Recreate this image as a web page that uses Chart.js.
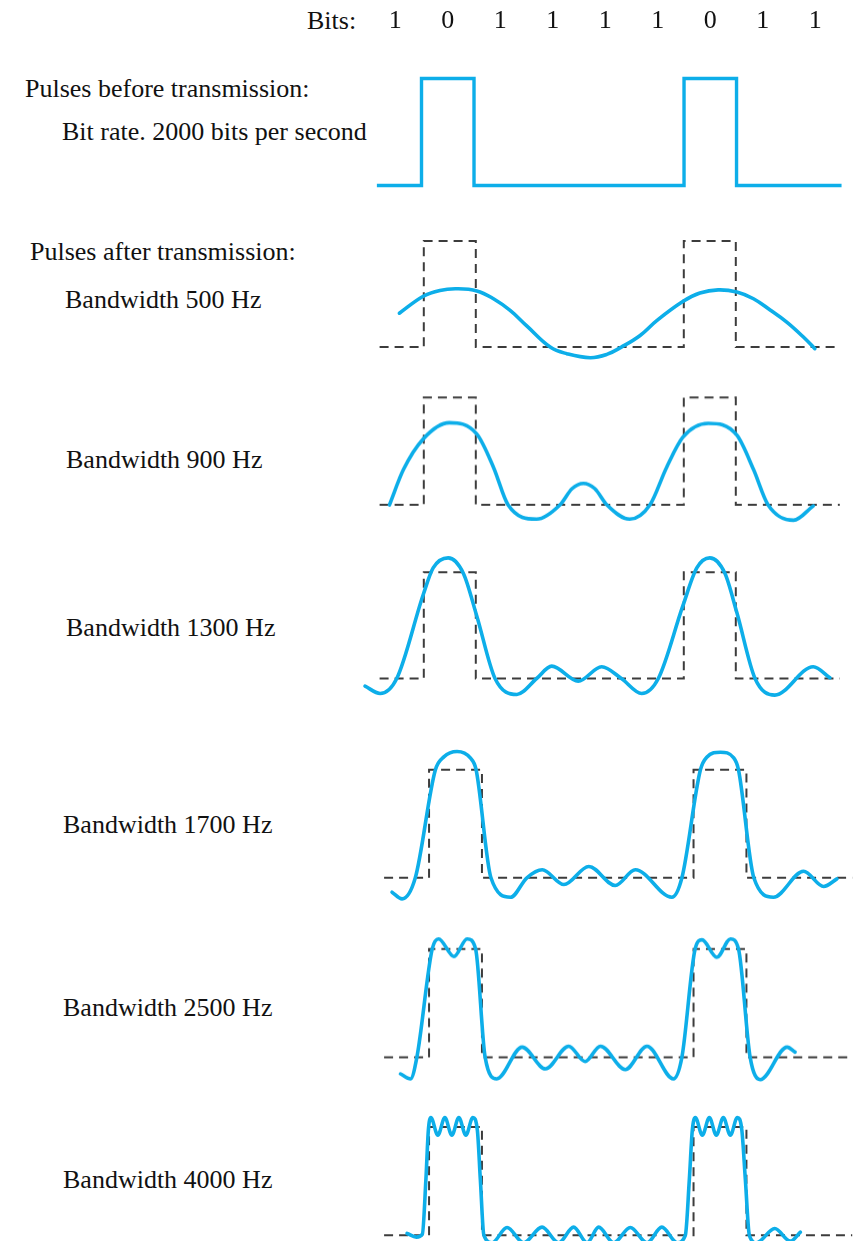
<!DOCTYPE html>
<html>
<head>
<meta charset="utf-8">
<script src="https://cdn.jsdelivr.net/npm/chart.js@4.4.1/dist/chart.umd.min.js"></script>
<style>
  html, body { margin: 0; padding: 0; background: #fff; }
  body { width: 858px; height: 1241px; overflow: hidden; position: relative; }
  .lbl { position: absolute; font-family: "Liberation Serif", "Times New Roman", serif;
         font-size: 26px; line-height: 26px; color: #111; white-space: nowrap; }
  .panel { position: absolute; }
</style>
</head>
<body>
<div class="lbl" style="left:307px;top:8px">Bits:</div>
<div class="lbl" style="left:25px;top:76px">Pulses before transmission:</div>
<div class="lbl" style="left:62px;top:119px">Bit rate. 2000 bits per second</div>
<div class="lbl" style="left:30px;top:239px">Pulses after transmission:</div>
<div class="lbl" style="left:65px;top:287px">Bandwidth 500 Hz</div>
<div class="lbl" style="left:66px;top:447px">Bandwidth 900 Hz</div>
<div class="lbl" style="left:66px;top:615px">Bandwidth 1300 Hz</div>
<div class="lbl" style="left:63px;top:812px">Bandwidth 1700 Hz</div>
<div class="lbl" style="left:63px;top:995px">Bandwidth 2500 Hz</div>
<div class="lbl" style="left:63px;top:1167px">Bandwidth 4000 Hz</div>

<script>
// Transmitted bit sequence (a pulse is sent for each 0 bit)
const bits = ['1', '0', '1', '1', '1', '1', '0', '1', '1'];
// Time span of the drawn traces, in bit periods
const traceStart = 0.15;
const traceEnd = 9.0;

// Received waveforms, [time in bit periods, amplitude relative to pulse height]
const bw500 = [[0.53,0.32],[0.99,0.48],[1.31,0.535],[1.63,0.55],[2.02,0.53],[2.34,0.456],[2.66,0.346],
  [2.98,0.20],[3.43,0.0],[3.75,-0.062],[4.20,-0.10],[4.52,-0.069],[4.80,0.0],[5.16,0.11],[5.48,0.25],
  [5.98,0.43],[6.31,0.51],[6.66,0.54],[7.02,0.52],[7.34,0.456],[7.66,0.35],[7.98,0.236],[8.30,0.095],[8.52,-0.015]];

const bw900 = [[0.34,0.0],[0.61,0.33],[0.99,0.615],[1.49,0.765],[2.02,0.66],[2.34,0.35],[2.62,0.0],
  [3.17,-0.134],[3.62,0.0],[3.85,0.15],[4.07,0.20],[4.29,0.15],[4.52,0.0],[4.96,-0.134],[5.35,0.0],
  [5.67,0.35],[5.98,0.63],[6.47,0.76],[7.02,0.65],[7.34,0.33],[7.62,0.0],[8.11,-0.144],[8.49,-0.01]];

const bw1300 = [[-0.13,-0.072],[0.16,-0.141],[0.48,0.0],[0.99,0.79],[1.18,1.04],[1.47,1.135],[1.76,0.99],
  [2.02,0.586],[2.37,0.0],[2.79,-0.15],[3.17,0.0],[3.46,0.116],[3.97,-0.025],[4.42,0.11],[4.80,0.0],
  [5.19,-0.141],[5.51,0.0],[5.98,0.68],[6.25,1.04],[6.50,1.135],[6.79,0.99],[7.02,0.62],[7.37,0.0],
  [7.75,-0.157],[8.49,0.11],[8.81,0.006]];

const bw1700 = [[0.30,-0.133],[0.49,-0.195],[0.74,0.0],[1.12,1.0],[1.28,1.12],[1.53,1.17],[1.78,1.11],
  [1.89,1.0],[2.17,0.0],[2.54,-0.18],[2.85,0.0],[3.14,0.074],[3.55,-0.062],[4.02,0.105],[4.52,-0.071],
  [4.90,0.074],[5.59,-0.18],[5.78,0.0],[6.13,1.0],[6.25,1.117],[6.51,1.163],[6.76,1.11],[6.85,1.0],
  [7.14,0.0],[7.51,-0.18],[8.08,0.061],[8.46,-0.08],[8.71,-0.01]];

const bw2500 = [[0.46,-0.154],[0.65,-0.20],[0.77,0.0],[1.06,1.0],[1.18,1.093],[1.47,0.93],[1.72,1.093],
  [1.88,1.0],[2.06,0.0],[2.28,-0.20],[2.76,0.093],[3.20,-0.108],[3.64,0.102],[3.95,-0.04],[4.24,0.102],
  [4.71,-0.114],[5.12,0.102],[5.62,-0.20],[5.78,0.0],[6.03,1.0],[6.16,1.084],[6.44,0.923],[6.70,1.093],
  [6.85,1.0],[7.07,0.0],[7.26,-0.207],[7.77,0.093],[7.92,0.047]];

const bw4000 = [[0.584,0.016],[0.76,-0.018],[0.873,0.009],[0.94,0.51],[0.987,0.97],[1.034,1.087],
  [1.166,0.923],[1.299,1.087],[1.431,0.923],[1.563,1.087],[1.696,0.923],[1.828,1.087],[1.913,0.97],
  [1.97,0.51],[2.036,0.0],[2.19,-0.07],[2.474,0.071],[2.788,-0.07],[3.136,0.074],[3.45,-0.07],
  [3.733,0.074],[3.987,-0.07],[4.206,0.074],[4.49,-0.07],[4.805,0.071],[5.121,-0.07],[5.40,0.074],
  [5.694,-0.07],[5.845,0.0],[5.92,0.51],[5.977,0.97],[6.034,1.087],[6.166,0.923],[6.299,1.087],
  [6.431,0.923],[6.563,1.087],[6.696,0.923],[6.828,1.087],[6.913,0.97],[6.98,0.51],[7.055,0.0],
  [7.19,-0.07],[7.535,0.062],[7.83,-0.055],[8.02,0.028]];

const BLUE = '#0daee9';
const DASH = '#3c3c3c';
const FONT = '"Liberation Serif", "Times New Roman", serif';

// Ideal pulse train: high during every 0 bit
function pulseTrain() {
  const level = b => (b === '0' ? 1 : 0);
  const pts = [{ x: traceStart, y: level(bits[0]) }];
  for (let i = 1; i < bits.length; i++) {
    const prev = level(bits[i - 1]), cur = level(bits[i]);
    if (cur !== prev) { pts.push({ x: i, y: prev }); pts.push({ x: i, y: cur }); }
  }
  pts.push({ x: traceEnd, y: level(bits[bits.length - 1]) });
  return pts;
}

const T_MIN = -0.4, T_MAX = 9.3, A_MIN = -0.4, A_MAX = 1.35, PAD = 4, AXIS_H = 36;

// g: pixel origin/scale of a panel (t=0 at x0, one bit = bit px; amplitude 0 at y0, 1 unit = unit px)
function panel(g, datasets, withBits) {
  const showBits = !!withBits;
  const axisH = showBits ? AXIS_H : 0;
  const left = g.x0 + g.bit * T_MIN - PAD;
  const width = g.bit * (T_MAX - T_MIN) + 2 * PAD;
  const top = g.y0 - g.unit * A_MAX - PAD - axisH;
  const height = g.unit * (A_MAX - A_MIN) + 2 * PAD + axisH;
  const box = document.createElement('div');
  box.className = 'panel';
  box.style.left = left + 'px';
  box.style.top = top + 'px';
  box.style.width = width + 'px';
  box.style.height = height + 'px';
  const cv = document.createElement('canvas');
  box.appendChild(cv);
  document.body.appendChild(box);

  const xScale = {
    type: 'linear', min: T_MIN, max: T_MAX, display: showBits, position: 'top',
    grid: { display: false, drawTicks: false }, border: { display: false },
    ticks: {
      autoSkip: false, maxRotation: 0, padding: 4, color: '#111',
      font: { family: FONT, size: 26 },
      callback: (v, i) => bits[i]
    }
  };
  if (showBits) {
    // bit digits sit over the centre of each bit period
    xScale.afterBuildTicks = s => { s.ticks = bits.map((_, i) => ({ value: i + 0.5 })); };
    xScale.afterFit = s => { s.height = AXIS_H; };
  }

  new Chart(cv, {
    type: 'line',
    data: { datasets },
    options: {
      responsive: true,
      maintainAspectRatio: false,
      animation: false,
      devicePixelRatio: 1,
      layout: { padding: PAD },
      elements: { point: { radius: 0, hoverRadius: 0 } },
      plugins: { legend: { display: false }, tooltip: { enabled: false } },
      events: [],
      scales: {
        x: xScale,
        y: { type: 'linear', min: A_MIN, max: A_MAX, display: false }
      }
    }
  });
}

function curve(pts, smooth) {
  const ds = {
    data: pts.map(p => ({ x: p[0], y: p[1] })),
    borderColor: BLUE, borderWidth: 3.6,
    borderCapStyle: 'round', borderJoinStyle: 'round', fill: false, order: 0
  };
  if (smooth) { ds.cubicInterpolationMode = 'default'; ds.tension = 0.4; }
  else { ds.cubicInterpolationMode = 'monotone'; }
  return ds;
}
function dashed() {
  return {
    data: pulseTrain(), borderColor: DASH, borderWidth: 2, borderDash: [9, 6],
    fill: false, tension: 0, order: 1
  };
}

// Pulses before transmission
panel({ x0: 368.75, bit: 52.5, y0: 185, unit: 107 }, [{
  data: pulseTrain(), borderColor: BLUE, borderWidth: 3.4, tension: 0, fill: false,
  borderJoinStyle: 'miter'
}], true);

// Pulses after transmission through each bandwidth
panel({ x0: 371.85, bit: 52.0, y0: 346.7, unit: 106 },  [curve(bw500, true), dashed()]);
panel({ x0: 371.85, bit: 52.0, y0: 504.0, unit: 106.7 }, [curve(bw900), dashed()]);
panel({ x0: 371.85, bit: 52.0, y0: 679.0, unit: 106.3 }, [curve(bw1300), dashed()]);
panel({ x0: 375.8,  bit: 52.9, y0: 877.3, unit: 108 },  [curve(bw1700), dashed()]);
panel({ x0: 375.8,  bit: 52.9, y0: 1056.7, unit: 107.7 }, [curve(bw2500), dashed()]);
panel({ x0: 375.8,  bit: 52.9, y0: 1235.0, unit: 108.3 }, [curve(bw4000), dashed()]);
</script>
</body>
</html>
